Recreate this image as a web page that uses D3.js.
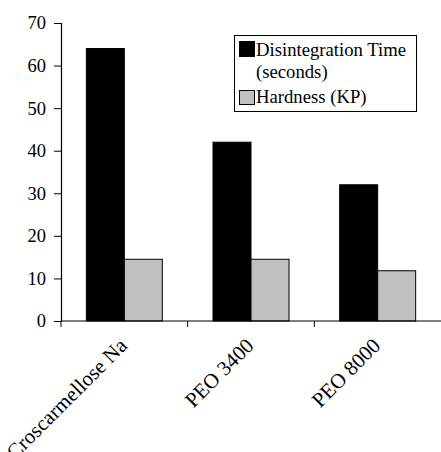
<!DOCTYPE html>
<html>
<head>
<meta charset="utf-8">
<script src="https://cdn.jsdelivr.net/npm/d3@7"></script>
<style>
  html, body { margin: 0; padding: 0; background: #fff; }
  svg { display: block; }
</style>
</head>
<body>
<svg id="chart" width="441" height="452"></svg>
<script>
// Formulations on the x axis
const categories = ["Croscarmellose Na", "PEO 3400", "PEO 8000"];
// Series names shown in the legend
const seriesNames = ["Disintegration Time", "Hardness (KP)"];
// Disintegration time, seconds
const disintegration = [64, 42, 32];
// Tablet hardness, KP
const hardness = [14.5, 14.5, 11.8];
// Y axis ticks
const yTicks = [0, 10, 20, 30, 40, 50, 60, 70];

const colors = ["#000000", "#c0c0c0"];
const fontFamily = "'Times New Roman', 'Liberation Serif', 'DejaVu Serif', Times, serif";
const svg = d3.select("#chart")
  .attr("font-family", fontFamily)
  .attr("font-size", 18);

const plot = { left: 61, right: 441, top: 23, bottom: 321 };

const x0 = d3.scaleBand().domain(categories).range([plot.left, plot.right])
  .paddingInner(0.4).paddingOuter(0.2);
const x1 = d3.scaleBand().domain([0, 1]).range([0, x0.bandwidth()]);
const y = d3.scaleLinear().domain([0, 70]).range([plot.bottom, plot.top]);

const rows = categories.map((c, i) => ({ cat: c, vals: [disintegration[i], hardness[i]] }));

// Bars
const g = svg.append("g");
rows.forEach(r => {
  r.vals.forEach((v, k) => {
    g.append("rect")
      .attr("x", x0(r.cat) + x1(k))
      .attr("y", y(v))
      .attr("width", x1.bandwidth())
      .attr("height", y(0) - y(v))
      .attr("fill", colors[k])
      .attr("stroke", "#000")
      .attr("stroke-width", 1);
  });
});

// Y axis
const yAxis = svg.append("g")
  .attr("transform", `translate(${plot.left},0)`)
  .call(d3.axisLeft(y).tickValues(yTicks).tickSize(7).tickPadding(8).tickFormat(d3.format("d")));
yAxis.attr("font-family", fontFamily).attr("font-size", 18.5);
yAxis.select(".domain").attr("stroke", "#000").attr("stroke-width", 1.2);
yAxis.selectAll(".tick line").attr("stroke", "#000");
yAxis.selectAll("text").attr("fill", "#000");

// X axis: ticks at group boundaries
const step = x0.step();
const boundaries = categories.map(c => x0(c) - x0.paddingInner() * step / 2);
svg.append("line")
  .attr("x1", plot.left).attr("x2", plot.right)
  .attr("y1", plot.bottom).attr("y2", plot.bottom)
  .attr("stroke", "#000").attr("stroke-width", 1.2);
svg.selectAll(".xtick").data(boundaries).enter().append("line")
  .attr("x1", d => d).attr("x2", d => d)
  .attr("y1", plot.bottom).attr("y2", plot.bottom + 6)
  .attr("stroke", "#000").attr("stroke-width", 1);

// Rotated category labels
svg.selectAll(".xlab").data(categories).enter().append("text")
  .attr("transform", d => `translate(${x0(d) + x0.bandwidth() / 2 + 4},${plot.bottom + 26}) rotate(-45)`)
  .attr("text-anchor", "end")
  .attr("font-size", 21)
  .text(d => d);

// Legend
const lg = svg.append("g").attr("font-size", 18.7);
lg.append("rect").attr("x", 234.5).attr("y", 35.5).attr("width", 182).attr("height", 76)
  .attr("fill", "#fff").attr("stroke", "#000").attr("stroke-width", 1);
lg.append("rect").attr("x", 239.5).attr("y", 41.5).attr("width", 15).attr("height", 15)
  .attr("fill", colors[0]).attr("stroke", "#000");
lg.append("text").attr("x", 256).attr("y", 56).text(seriesNames[0]);
lg.append("text").attr("x", 256).attr("y", 78).text("(seconds)");
lg.append("rect").attr("x", 239.5).attr("y", 90.5).attr("width", 15).attr("height", 14)
  .attr("fill", colors[1]).attr("stroke", "#000");
lg.append("text").attr("x", 256).attr("y", 103).text(seriesNames[1]);
</script>
</body>
</html>
